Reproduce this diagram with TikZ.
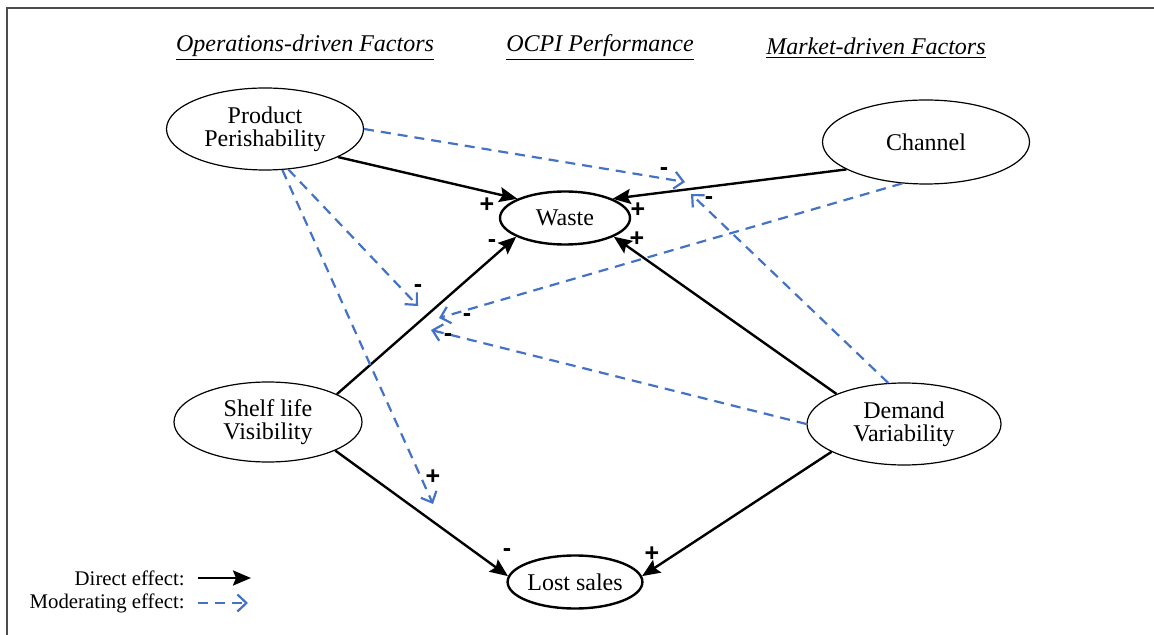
\documentclass[tikz,border=0pt]{standalone}
\usepackage{fontspec}
\setmainfont{Liberation Serif}
\setsansfont{Liberation Sans}
\usetikzlibrary{shapes.geometric,arrows.meta}
\definecolor{modblue}{HTML}{4472C4}
\tikzstyle{fac}=[ellipse, draw, align=center, line width=0.6pt, inner sep=0pt, font=\fontsize{12}{11.5}\selectfont]
\tikzstyle{res}=[ellipse, draw, line width=1.2pt, inner sep=0pt, minimum width=65pt, minimum height=26.5pt, font=\fontsize{12}{13}\selectfont]
\tikzstyle{hd}=[font=\fontsize{12}{14}\selectfont\itshape]
\tikzstyle{sg}=[inner sep=0pt, font=\fontsize{12.5}{13}\sffamily\bfseries]
\tikzstyle{lg}=[anchor=east, inner ysep=0pt, inner xsep=6.5pt, font=\fontsize{10.4}{12}\selectfont]
\tikzstyle{deff}=[->, >={Stealth[length=9pt,width=7.5pt,inset=1.5pt]}, line width=1.2pt]
\tikzstyle{meff}=[->, >={Straight Barb[length=4.5pt,width=8.5pt]}, color=modblue, line width=1.1pt, dash pattern=on 5pt off 3.5pt]

\begin{document}
\begin{tikzpicture}[x=0.5pt,y=-0.5pt]
\useasboundingbox (0,0) rectangle (1154,635);
\draw[line width=1pt, gray!60!black] (1154,8) -- (7,8) -- (7,635);

% headings
\node[hd] (h1) at (305,48) {\underline{Operations-driven Factors}};
\node[hd] (h2) at (600,48) {\underline{OCPI Performance}};
\node[hd] (h3) at (876,48) {\underline{Market-driven Factors}};

% factors and outcomes
\node[fac, minimum width=98.5pt, minimum height=41pt] (pp) at (265,129) {Product\\Perishability};
\node[fac, minimum width=103.5pt, minimum height=42pt] (ch) at (926,142) {Channel};
\node[res] (waste) at (565,218) {Waste};
\node[fac, minimum width=94pt, minimum height=40pt] (slv) at (268,422) {Shelf life\\Visibility};
\node[fac, minimum width=97pt, minimum height=41pt] (dv) at (904,424) {Demand\\Variability};
\node[res] (lost) at (575,582) {Lost sales};

% direct effects
\draw[deff] (pp.-21) -- (waste.158);
\draw[deff] (ch.-161) -- (waste.22);
\draw[deff] (slv.22) -- (waste.-159);
\draw[deff] (dv.156) -- (waste.-21);
\draw[deff] (slv.-23) -- (lost.175);
\draw[deff] (dv.-159) -- (lost.5);

% moderating effects
\coordinate (m1) at (685,182);
\coordinate (m2) at (691,194);
\coordinate (m3) at (418,306);
\coordinate (m4) at (439,318);
\coordinate (m5) at (431,330);
\coordinate (m6) at (433,504);
\draw[meff] (pp.east) -- (m1);
\draw[meff] (dv.111) -- (m2);
\draw[meff] (pp.-60) -- (m3);
\draw[meff] (ch.-120) -- (m4);
\draw[meff] (dv.west) -- (m5);
\draw[meff] (pp.-67) -- (m6);

% signs
\node[sg] (s1) at (487,205) {+};
\node[sg] (s2) at (638,210) {+};
\node[sg] (s3) at (492,244) {-};
\node[sg] (s4) at (637,239) {+};
\node[sg] (s5) at (664,172) {-};
\node[sg] (s6) at (709,201) {-};
\node[sg] (s7) at (418,289) {-};
\node[sg] (s8) at (467,318) {-};
\node[sg] (s9) at (448,338) {-};
\node[sg] (s10) at (433,477) {+};
\node[sg] (s11) at (507,553) {-};
\node[sg] (s12) at (652,554) {+};

% legend
\node[lg] (lg1) at (198,578) {Direct effect:};
\node[lg] (lg2) at (198,603) {Moderating effect:};
\coordinate (lg1e) at (251,578);
\coordinate (lg2e) at (248,603);
\draw[deff] (lg1.east) -- (lg1e);
\draw[meff] (lg2.east) -- (lg2e);
\end{tikzpicture}
\end{document}
